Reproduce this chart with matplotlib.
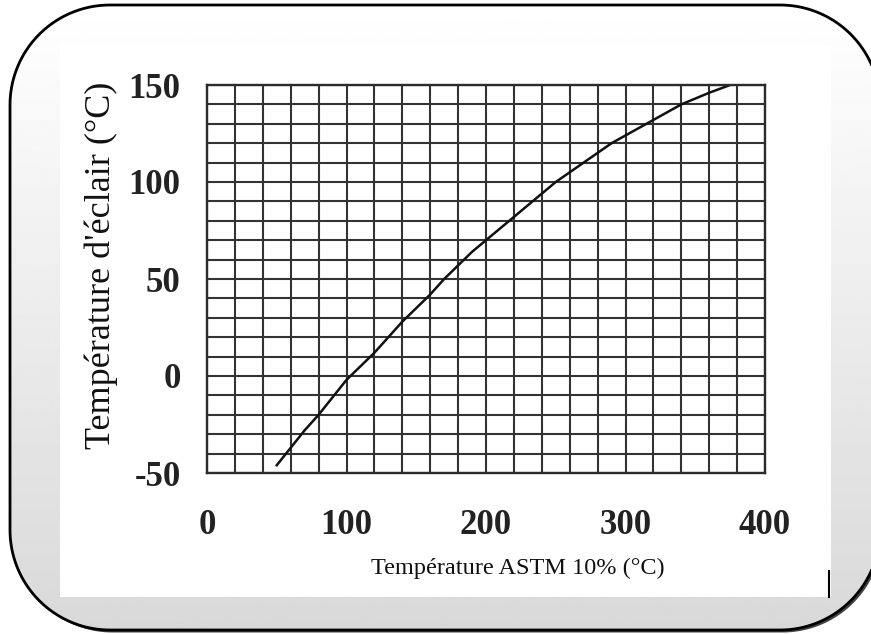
import numpy as np
import matplotlib
matplotlib.use("Agg")
import matplotlib.pyplot as plt
from matplotlib.patches import Polygon, Rectangle

plt.rcParams["axes.unicode_minus"] = False

# data
astm_10 = [50, 60, 70, 80, 90, 100, 110, 120, 130, 140, 150, 160, 170, 180, 190, 200,
           210, 220, 230, 240, 250, 260, 270, 280, 290, 300, 310, 320, 330, 340, 350,
           360, 375]
flash_pt = [-46, -37, -28, -20, -11, -2, 5, 12, 20, 28, 35, 42, 50, 57, 64, 70,
            76, 82, 88, 94, 100, 105, 110, 115, 120, 124, 128, 132, 136, 140, 143,
            146, 150]
x_ticks = [0, 100, 200, 300, 400]
y_ticks = [-50, 0, 50, 100, 150]

W, H = 871, 634


def rounded_box(x0, y0, x1, y1, r, n=40):
    # polygon outline of a rounded rectangle
    pts = []
    for cx, cy, a0 in [(x1 - r, y0 + r, -90), (x1 - r, y1 - r, 0),
                       (x0 + r, y1 - r, 90), (x0 + r, y0 + r, 180)]:
        t = np.radians(np.linspace(a0, a0 + 90, n))
        pts.append(np.column_stack([cx + r * np.cos(t), cy + r * np.sin(t)]))
    return np.vstack(pts)


fig = plt.figure(figsize=(W / 100, H / 100), dpi=100)
fig.patch.set_facecolor("white")

# ── background frame (pixel coords, y upwards) ───────────────────────────────
bg = fig.add_axes([0, 0, 1, 1])
x0, y0, x1, y1 = 10, 4, 880, 629
outline = rounded_box(x0, y0, x1, y1, 100)
bg.add_patch(Polygon(outline + [2.5, -2.5], closed=True, fc="#444444", ec="none", zorder=1))
frame_fill = Polygon(outline, closed=True, fc="none", ec="none", zorder=1)
bg.add_patch(frame_fill)
grad = np.linspace(0.85, 1.0, 256).reshape(-1, 1)
img = bg.imshow(grad, cmap="gray", vmin=0, vmax=1, extent=(x0, x1, y0, y1),
                origin="lower", aspect="auto", interpolation="bilinear", zorder=2)
img.set_clip_path(frame_fill)
bg.add_patch(Rectangle((60, H - 597), 771, 552, fc="white", ec="none", zorder=3))
bg.add_patch(Polygon(outline, closed=True, fc="none", ec="black", lw=2, zorder=4))
bg.plot([829, 829], [H - 571, H - 597], color="black", lw=1.5, zorder=5)
bg.set_xlim(0, W)
bg.set_ylim(0, H)
bg.axis("off")

# ── chart ─────────────────────────────────────────────────────────────────────
ax = fig.add_axes([207 / W, 1 - 473 / H, 558 / W, 388 / H])
ax.set_facecolor("white")
ax.plot(astm_10, flash_pt, color="#111111", lw=1.8)

ax.set_xlim(0, 400)
ax.set_ylim(-50, 150)
ax.set_xticks(x_ticks)
ax.set_yticks(y_ticks)
ax.set_xticks(np.arange(0, 401, 20), minor=True)
ax.set_yticks(np.arange(-50, 151, 10), minor=True)
ax.grid(which="both", color="#333333", lw=1.5)
ax.set_axisbelow(True)
for s in ax.spines.values():
    s.set_color("#2b2b2b")
    s.set_linewidth(1.7)
ax.tick_params(which="both", length=0)
ax.tick_params(axis="x", pad=26)
ax.tick_params(axis="y", pad=19)

serif = "Liberation Serif"
for lab in ax.get_xticklabels() + ax.get_yticklabels():
    lab.set_fontfamily(serif)
    lab.set_fontweight("bold")
    lab.set_fontsize(25)
    lab.set_color("#222222")

ax.set_xlabel("Température ASTM 10% (°C)", family=serif, fontsize=17.5,
              color="#111111", va="center", ha="center")
ax.xaxis.set_label_coords(0.557, -0.245)
ax.set_ylabel("Température d'éclair (°C)", family=serif, fontsize=26,
              color="#111111", va="center", ha="center")
ax.yaxis.set_label_coords(-0.19, 0.536)

fig.savefig("out.png", dpi=100)
